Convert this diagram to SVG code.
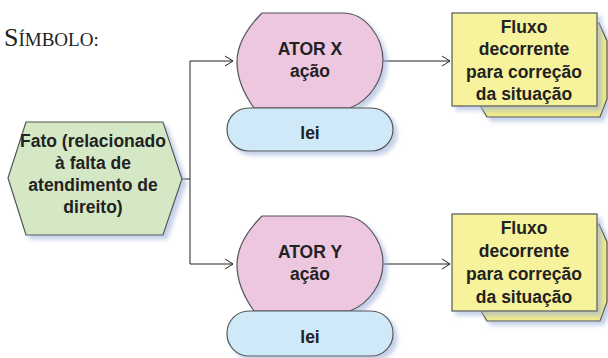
<svg xmlns="http://www.w3.org/2000/svg" width="608" height="358" viewBox="0 0 608 358">
<defs>
<filter id="sh" x="-10%" y="-10%" width="130%" height="130%">
<feDropShadow dx="4" dy="4" stdDeviation="2" flood-color="#9fb0d8" flood-opacity="0.6"/>
</filter>
<marker id="arr" markerWidth="10" markerHeight="12" refX="9" refY="6" orient="auto" markerUnits="userSpaceOnUse">
<path d="M1,1 L9,6 L1,11" fill="none" stroke="#222" stroke-width="1"/>
</marker>
</defs>
<style>
.shape{stroke:#555;stroke-width:1.2;filter:url(#sh)}
.actor{fill:#edc6df}
.lei{fill:#cfe9f8}
.fact{fill:#d5e8c6}
.flow{fill:#f7f29c}
.flowback{fill:#eeea8a}
.lbl{font-family:"Liberation Sans",Arial,sans-serif;font-weight:bold;font-size:17.5px;fill:#222;text-anchor:middle}
.conn{fill:none;stroke:#222;stroke-width:1}
</style>
<rect width="608" height="358" fill="#fff"/>
<text x="4" y="46" font-family="Liberation Serif,serif" fill="#222"><tspan font-size="26">S</tspan><tspan font-size="19">ÍMBOLO:</tspan></text>

<g id="connectors">
<path class="conn" d="M182,179 H190"/>
<path class="conn" d="M190,61 V264"/>
<path class="conn" d="M190,61 H233" marker-end="url(#arr)"/>
<path class="conn" d="M190,264 H233" marker-end="url(#arr)"/>
<path class="conn" d="M383,61 H450" marker-end="url(#arr)"/>
<path class="conn" d="M383,264 H450" marker-end="url(#arr)"/>
</g>

<g id="fato">
<polygon class="shape fact" points="26,122 163,122 182,179 163,235 26,235 8,178"/>
<text class="lbl" x="93" y="147">Fato (relacionado</text>
<text class="lbl" x="93" y="169">à falta de</text>
<text class="lbl" x="93" y="191">atendimento de</text>
<text class="lbl" x="93" y="213">direito)</text>
</g>

<g id="atorX">
<path class="shape actor" d="M262,13 L343,13 C366,13 383,38 383,60 C383,80 370,100 350,108 L254,108 C244,94 237,78 237,62 C237,44 248,27 262,13 Z"/>
<text class="lbl" x="310" y="55">ATOR X</text>
<text class="lbl" x="310" y="77">ação</text>
</g>
<g id="leiX">
<rect class="shape lei" x="227" y="108" width="166" height="43" rx="21.5"/>
<text class="lbl" x="310" y="139">lei</text>
</g>

<g id="atorY">
<path class="shape actor" d="M262,216 L343,216 C366,216 383,241 383,263 C383,283 370,303 350,311 L254,311 C244,297 237,281 237,265 C237,247 248,230 262,216 Z"/>
<text class="lbl" x="310" y="258">ATOR Y</text>
<text class="lbl" x="310" y="280">ação</text>
</g>
<g id="leiY">
<rect class="shape lei" x="227" y="311" width="166" height="45" rx="22"/>
<text class="lbl" x="310" y="343">lei</text>
</g>

<g id="fluxo1">
<polygon class="shape flowback" points="481,23 599,23 607,41 607,99 600,117 487,117 481,107"/>
<rect class="shape flow" x="452" y="13" width="145" height="93"/>
<text class="lbl" x="524" y="33">Fluxo</text>
<text class="lbl" x="524" y="55">decorrente</text>
<text class="lbl" x="524" y="78">para correção</text>
<text class="lbl" x="524" y="100">da situação</text>
</g>

<g id="fluxo2">
<polygon class="shape flowback" points="481,224 599,224 607,242 607,302 600,321 487,321 481,311"/>
<rect class="shape flow" x="452" y="214" width="145" height="97"/>
<text class="lbl" x="524" y="234">Fluxo</text>
<text class="lbl" x="524" y="257">decorrente</text>
<text class="lbl" x="524" y="280">para correção</text>
<text class="lbl" x="524" y="303">da situação</text>
</g>
</svg>
